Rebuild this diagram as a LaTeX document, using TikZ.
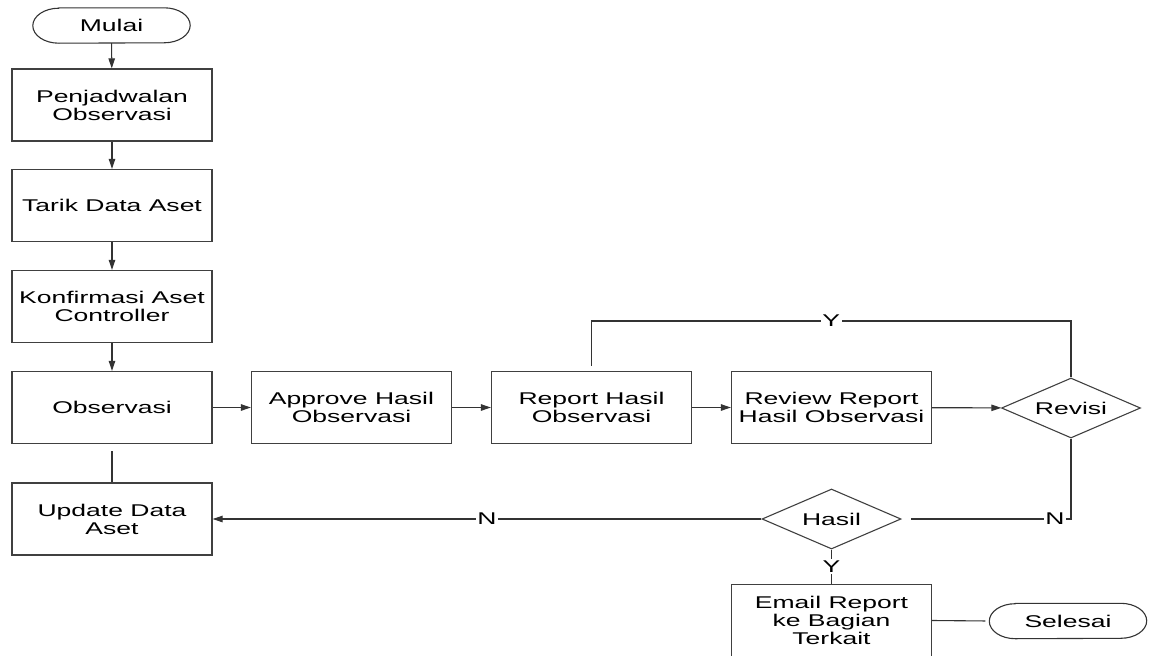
\documentclass[tikz,border=0pt]{standalone}
\usepackage{fontspec}
\setmainfont[FakeStretch=1.56]{Liberation Sans}
\usetikzlibrary{shapes.geometric,arrows.meta,calc}

% outline of a start/end terminal drawn around a plain node
\newcommand\termshape[1]{%
  \draw[line] ([xshift=26pt]#1.north west) -- ([xshift=-26pt]#1.north east)
    arc[start angle=90,end angle=-90,x radius=26pt,y radius=17.5pt]
    -- ([xshift=26pt]#1.south west)
    arc[start angle=270,end angle=90,x radius=26pt,y radius=17.5pt] -- cycle;}

\begin{document}
\begin{tikzpicture}[x=1pt,y=-1pt,
  font=\fontsize{17}{18}\selectfont,
  line/.style={draw=black!80, line width=1.1pt},
  flow/.style={line, -{Triangle[length=10pt,width=6.5pt]}},
  proc/.style={draw=black!75, line width=1.3pt, minimum width=200pt,
               minimum height=72pt, inner sep=2pt, align=center},
  dec/.style={draw=black!75, line width=1.1pt, diamond, aspect=2.3,
              minimum width=139pt, minimum height=60pt, inner sep=0pt},
  term/.style={minimum width=157pt, minimum height=35pt, inner sep=0pt},
  lbl/.style={fill=white, inner sep=1.5pt}
]
\useasboundingbox (0,0) rectangle (1149,656);

% left column
\node[term] (mulai) at (111.5,25.5) {Mulai};
\termshape{mulai}
\node[proc] (p1) at (112,105)   {Penjadwalan\\Observasi};
\node[proc] (p2) at (112,205.5) {Tarik Data Aset};
\node[proc] (p3) at (112,306.5) {Konfirmasi Aset\\Controller};
\node[proc] (p4) at (112,407.5) {Observasi};
\node[proc] (p5) at (112,519)   {Update Data\\Aset};

% main row
\node[proc] (approve) at (351.5,407.5) {Approve Hasil\\Observasi};
\node[proc] (report)  at (591.5,407.5) {Report Hasil\\Observasi};
\node[proc] (review)  at (831.5,407.5) {Review Report\\Hasil Observasi};
\node[dec]  (revisi)  at (1071,408)    {Revisi};

% lower branch
\node[dec]  (hasil) at (831.5,519)   {Hasil};
\node[proc] (email) at (831.5,620.5) {Email Report\\ke Bagian\\Terkait};
\node[term] (selesai) at (1068,621) {Selesai};
\termshape{selesai}

% connectors
\draw[flow] (mulai) -- (p1);
\draw[flow] (p1) -- (p2);
\draw[flow] (p2) -- (p3);
\draw[flow] (p3) -- (p4);
\draw[line, shorten <=7pt] (p4) -- (p5);
\draw[flow] (p4) -- (approve);
\draw[flow] (approve) -- (report);
\draw[flow] (report) -- (review);
\draw[flow] (review) -- (revisi);

\coordinate (looptop) at (1071,321);
\draw[line] ([yshift=5pt]report.north) |- node[lbl,pos=0.75] {Y} (looptop) -- (revisi.north);
\draw[line] (revisi.south) |- node[lbl,pos=0.55] {N} ([xshift=9pt]hasil.east);
\draw[flow] (hasil.west) -- node[lbl] {N} (p5.east);
\draw[line] (hasil.south) -- node[lbl] {Y} (email.north);
\draw[line, shorten >=4pt] (email.east) -- (selesai.west);
\end{tikzpicture}
\end{document}
